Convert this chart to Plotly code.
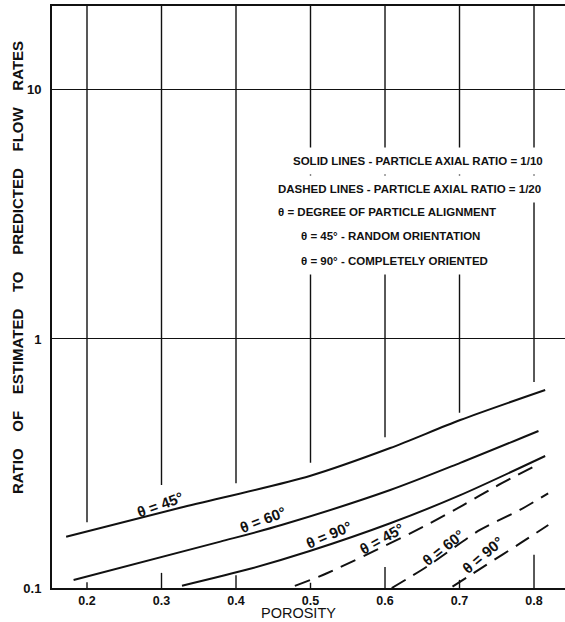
import numpy as np
import plotly.graph_objects as go

# ---------------- data ----------------
porosity_solid_45 = [0.172, 0.325, 0.499, 0.607, 0.701, 0.815]
ratio_solid_45 = [0.1607, 0.2100, 0.2818, 0.3648, 0.4727, 0.6237]

porosity_solid_60 = [0.182, 0.379, 0.461, 0.607, 0.701, 0.806]
ratio_solid_60 = [0.1077, 0.1535, 0.179, 0.2474, 0.318, 0.427]

porosity_solid_90 = [0.3275, 0.419, 0.499, 0.607, 0.701, 0.815]
ratio_solid_90 = [0.1021, 0.1194, 0.1407, 0.1819, 0.236, 0.3389]

porosity_dashed_45 = [0.479, 0.522, 0.656, 0.705, 0.748, 0.804]
ratio_dashed_45 = [0.102, 0.1146, 0.179, 0.2154, 0.255, 0.312]

porosity_dashed_60 = [0.609, 0.656, 0.7275, 0.781, 0.819]
ratio_dashed_60 = [0.100, 0.1217, 0.171, 0.2057, 0.240]

porosity_dashed_90 = [0.6906, 0.735, 0.7812, 0.8192]
ratio_dashed_90 = [0.1012, 0.1233, 0.151, 0.179]

x_ticks = [0.2, 0.3, 0.4, 0.5, 0.6, 0.7, 0.8]
x_tick_labels = ["0.2", "0.3", "0.4", "0.5", "0.6", "0.7", "0.8"]
y_ticks = [0.1, 1, 10]
y_tick_labels = ["0.1", "1", "10"]

curve_labels = ["θ = 45°", "θ = 60°", "θ = 90°", "θ = 45°", "θ = 60°", "θ = 90°"]
# label anchor positions (porosity, ratio) and text angle
label_x = [0.298, 0.436, 0.525, 0.596, 0.678, 0.732]
label_y = [0.2134, 0.1841, 0.1603, 0.1545, 0.1434, 0.1332]
label_angle = [-20, -21, -23, -29, -38, -40]

legend_lines = [
    "SOLID LINES - PARTICLE AXIAL RATIO = 1/10",
    "DASHED LINES - PARTICLE AXIAL RATIO = 1/20",
    "θ = DEGREE OF PARTICLE ALIGNMENT",
    "θ = 45° - RANDOM ORIENTATION",
    "θ = 90° - COMPLETELY ORIENTED",
]
x_title = "POROSITY"
y_title_words = ["RATIO", "OF", "ESTIMATED", "TO", "PREDICTED", "FLOW", "RATES"]

# ---------------- style ----------------
FONT = "Liberation Sans, Arial, sans-serif"
INK = "#111111"
W, H = 565, 622
ML, MR, MT, MB = 52, 0, 6, 34
XR = [0.15302, 0.8416]
YR = [-1.0, 1.337]
pw, ph = W - ML - MR, H - MT - MB


def px_to_paper(px, py):
    return (px - ML) / pw, (H - MB - py) / ph


fig = go.Figure()

solid = dict(color=INK, width=2)
dashed = dict(color=INK, width=2, dash="16px,9px")
series = [
    (porosity_solid_45, ratio_solid_45, solid),
    (porosity_solid_60, ratio_solid_60, solid),
    (porosity_solid_90, ratio_solid_90, solid),
    (porosity_dashed_45, ratio_dashed_45, dashed),
    (porosity_dashed_60, ratio_dashed_60, dashed),
    (porosity_dashed_90, ratio_dashed_90, dashed),
]
for xs, ys, ln in series:
    fig.add_trace(go.Scatter(x=xs, y=ys, mode="lines",
                             line=dict(ln, shape="spline", smoothing=0.8),
                             showlegend=False, hoverinfo="skip"))

# vertical grid lines, hand-drawn style: long segment from top and short stub at bottom
grid_low_end = [0.113, 0.177, 0.180, 0.215, 0.259, 0.301, 0.354]
grid_stub_top = [0.010, 0.026, 0.022, 0.009, 0.036, 0.014, 0.057]
for xv, lo, st in zip(x_ticks, grid_low_end, grid_stub_top):
    fig.add_shape(type="line", xref="x", yref="paper", x0=xv, x1=xv, y0=lo, y1=1,
                  line=dict(color=INK, width=1.4), layer="below")
    fig.add_shape(type="line", xref="x", yref="paper", x0=xv, x1=xv, y0=0, y1=st,
                  line=dict(color=INK, width=1.4), layer="below")

# curve labels
for t, lx, ly, ang in zip(curve_labels, label_x, label_y, label_angle):
    fig.add_annotation(x=lx, y=np.log10(ly), xref="x", yref="y", text=t, showarrow=False,
                       textangle=ang, xanchor="center", yanchor="middle", yshift=2,
                       font=dict(family=FONT, size=15, color=INK, weight="bold"))

# explanatory text block (white background interrupts the grid lines as in the original)
legend_px = [(285, 161), (270, 189), (270, 212), (293, 236), (293, 261)]
for t, (px, py) in zip(legend_lines, legend_px):
    ax_, ay_ = px_to_paper(px, py)
    fig.add_annotation(x=ax_, y=ay_, xref="paper", yref="paper",
                       text=t, showarrow=False, xanchor="left", yanchor="middle",
                       bgcolor="white", borderpad=7,
                       font=dict(family=FONT, size=11.5, color=INK, weight="bold"))

# y-axis title
gap = "\u00a0" * 4
tx, ty = px_to_paper(17, 268)
fig.add_annotation(x=tx, y=ty, xref="paper", yref="paper",
                   text=gap.join(y_title_words), textangle=-90, showarrow=False,
                   xanchor="center", yanchor="middle",
                   font=dict(family=FONT, size=15, color=INK, weight="bold"))

# x-axis title
tx, ty = px_to_paper(298, 613)
fig.add_annotation(x=tx, y=ty, xref="paper", yref="paper", text=x_title, showarrow=False,
                   xanchor="center", yanchor="middle",
                   font=dict(family=FONT, size=14.5, color=INK))

fig.update_layout(
    width=W, height=H,
    margin=dict(l=ML, r=MR, t=MT, b=MB, pad=0),
    paper_bgcolor="white", plot_bgcolor="white",
    showlegend=False,
    xaxis=dict(range=XR, tickvals=x_ticks, ticktext=x_tick_labels, showgrid=False, zeroline=False,
               showline=True, mirror=True, linecolor=INK, linewidth=2, ticks="",
               ticklabelstandoff=0,
               tickfont=dict(family=FONT, size=12.5, color=INK, weight="bold"),
               fixedrange=True),
    yaxis=dict(type="log", range=YR, tickvals=y_ticks, ticktext=y_tick_labels,
               showgrid=True, gridcolor=INK, gridwidth=1.4, zeroline=False,
               showline=True, linecolor=INK, linewidth=2, ticks="", ticklabelstandoff=6,
               tickfont=dict(family=FONT, size=13, color=INK, weight="bold"),
               fixedrange=True),
)

fig.write_html("out.html", config={"displayModeBar": False},
               post_script="document.body.style.margin='0';document.documentElement.style.overflow='hidden';")
